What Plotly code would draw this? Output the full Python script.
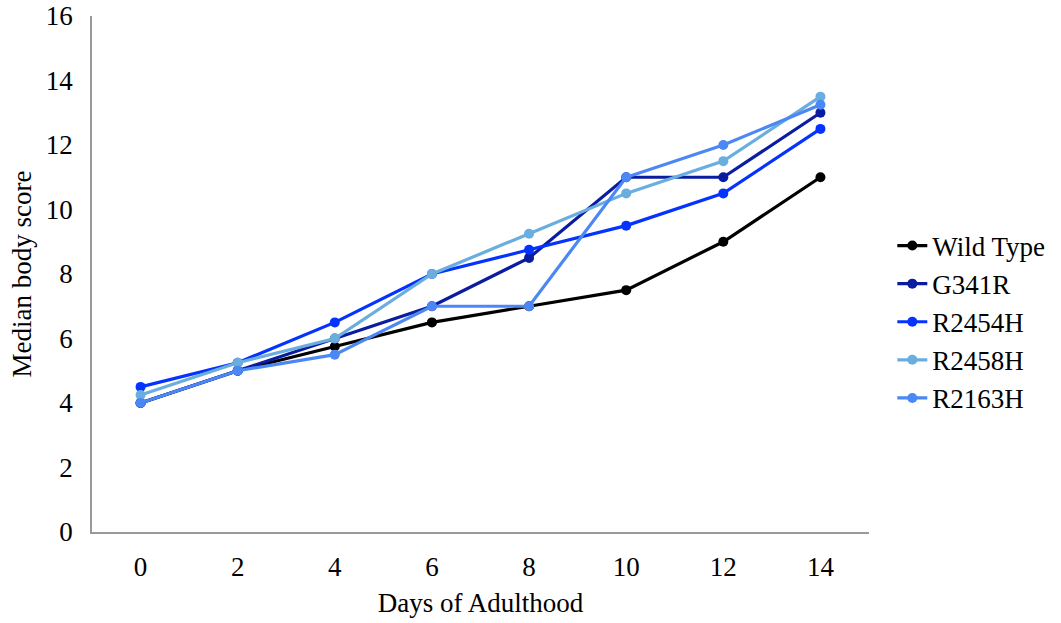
import plotly.graph_objects as go

# Days of adulthood sampled
days = [0, 2, 4, 6, 8, 10, 12, 14]

# Median body score per strain
wild_type = [4.0, 5.0, 5.75, 6.5, 7.0, 7.5, 9.0, 11.0]
g341r = [4.0, 5.0, 6.0, 7.0, 8.5, 11.0, 11.0, 13.0]
r2454h = [4.5, 5.25, 6.5, 8.0, 8.75, 9.5, 10.5, 12.5]
r2458h = [4.25, 5.25, 6.0, 8.0, 9.25, 10.5, 11.5, 13.5]
r2163h = [4.0, 5.0, 5.5, 7.0, 7.0, 11.0, 12.0, 13.25]

series = [
    ("Wild Type", wild_type, "#000000"),
    ("G341R", g341r, "#0a1ca0"),
    ("R2454H", r2454h, "#0433ff"),
    ("R2458H", r2458h, "#6aaedf"),
    ("R2163H", r2163h, "#4c88f5"),
]

y_ticks = list(range(0, 17, 2))

fig = go.Figure()
for name, values, color in series:
    fig.add_trace(go.Scatter(
        x=days, y=values, name=name, mode="lines+markers",
        line=dict(color=color, width=3.2),
        marker=dict(color=color, size=10),
    ))

font_family = "Liberation Serif, Times New Roman, serif"
fsize = 27

fig.update_layout(
    width=1061, height=623,
    margin=dict(l=92, r=192, t=16, b=91, autoexpand=False),
    paper_bgcolor="white", plot_bgcolor="white",
    font=dict(family=font_family, size=fsize, color="black"),
    showlegend=True,
    legend=dict(
        x=1.03, y=0.407, xanchor="left", yanchor="middle",
        font=dict(family=font_family, size=fsize, color="black"),
        itemwidth=30, tracegroupgap=0,
        bgcolor="rgba(0,0,0,0)",
    ),
    xaxis=dict(
        range=[-1, 15], tickvals=days, ticktext=[str(d) for d in days],
        showgrid=False, zeroline=False, showline=True, automargin=False,
        linecolor="#999999", linewidth=1.5, ticks="",
        ticklabelstandoff=10,
        tickfont=dict(family=font_family, size=fsize),
        title=dict(text="Days of Adulthood", standoff=12,
                   font=dict(family=font_family, size=fsize)),
    ),
    yaxis=dict(
        range=[0, 16], tickvals=y_ticks, ticktext=[str(v) for v in y_ticks],
        showgrid=False, zeroline=False, showline=True, automargin=False,
        linecolor="#999999", linewidth=1.5, ticks="",
        ticklabelstandoff=12,
        tickfont=dict(family=font_family, size=fsize),
        title=dict(text="Median body score", standoff=6,
                   font=dict(family=font_family, size=fsize)),
    ),
)

fig.write_html("out.html")
